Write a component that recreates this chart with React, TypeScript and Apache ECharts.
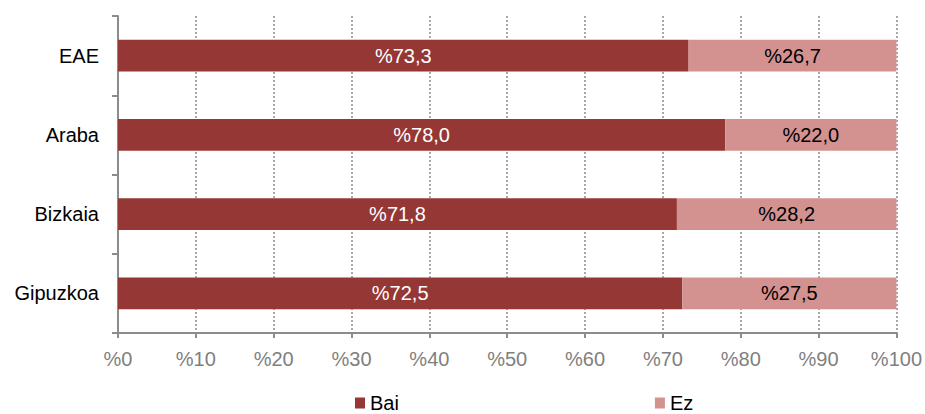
import React, { useEffect, useRef } from "react";
import * as echarts from "echarts";

const categories = ["EAE", "Araba", "Bizkaia", "Gipuzkoa"];
const baiValues = [73.3, 78.0, 71.8, 72.5];
const ezValues = [26.7, 22.0, 28.2, 27.5];
const seriesNames = ["Bai", "Ez"];

const fmt = (v: number) => "%" + v.toFixed(1).replace(".", ",");

export default function App() {
  const ref = useRef<HTMLDivElement>(null);
  useEffect(() => {
    if (!ref.current) return;
    const chart = echarts.init(ref.current, undefined, { renderer: "svg" });
    const font = "'Liberation Sans', Arial, sans-serif";
    chart.setOption({
      animation: false,
      textStyle: { fontFamily: font },
      grid: { left: 118, right: 28, top: 16, bottom: 81, containLabel: false },
      legend: {
        left: 355,
        top: 393,
        padding: 0,
        itemWidth: 10,
        itemHeight: 11,
        itemGap: 256,
        icon: "rect",
        textStyle: { fontSize: 20, color: "#000", fontFamily: font },
        data: seriesNames,
      },
      xAxis: {
        type: "value",
        min: 0,
        max: 100,
        interval: 10,
        axisLine: { show: true, lineStyle: { color: "#8c8c8c", width: 2 } },
        axisTick: { show: true, length: 5, lineStyle: { color: "#8c8c8c", width: 2 } },
        axisLabel: {
          color: "#7f7f7f",
          fontSize: 20,
          fontFamily: font,
          margin: 16,
          formatter: (v: number) => "%" + v,
        },
        splitLine: { show: true, lineStyle: { color: "#8c8c8c", type: [2, 2], width: 1.5 } },
      },
      yAxis: {
        type: "category",
        inverse: true,
        data: categories,
        axisLine: { show: true, lineStyle: { color: "#8c8c8c", width: 2 } },
        axisTick: { show: true, length: 6, lineStyle: { color: "#8c8c8c", width: 2 } },
        axisLabel: { color: "#000", fontSize: 20, fontFamily: font, margin: 19 },
      },
      series: [
        {
          name: seriesNames[0],
          type: "bar",
          stack: "total",
          barCategoryGap: "60%",
          data: baiValues,
          itemStyle: { color: "#953735" },
          label: {
            show: true,
            position: "inside",
            color: "#fff",
            fontSize: 20,
            fontFamily: font,
            formatter: (p: any) => fmt(p.value),
          },
        },
        {
          name: seriesNames[1],
          type: "bar",
          stack: "total",
          barCategoryGap: "60%",
          data: ezValues,
          itemStyle: { color: "#d39290" },
          label: {
            show: true,
            position: "inside",
            color: "#000",
            fontSize: 20,
            fontFamily: font,
            formatter: (p: any) => fmt(p.value),
          },
        },
      ],
    });
    return () => chart.dispose();
  }, []);
  return <div ref={ref} style={{ width: 925, height: 414, position: "absolute", left: 0, top: 0 }} />;
}
